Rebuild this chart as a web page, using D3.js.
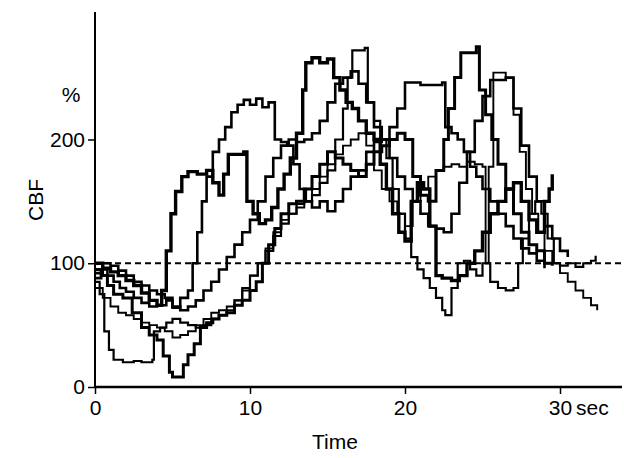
<!DOCTYPE html>
<html><head><meta charset="utf-8">
<script src="https://cdn.jsdelivr.net/npm/d3@7"></script>
<style>body{margin:0;background:#fff}svg{display:block}text{font-family:"Liberation Sans",Arial,sans-serif;fill:#000}</style>
</head><body><svg id="c" width="624" height="458"></svg>
<script>
const xTicks = [0, 10, 20, 30];
const yTicks = [0, 100, 200];
const baseline = 100;
const series1 = [[0,88],[0.4,95],[0.8,90],[1.2,85],[1.6,80],[2,77],[2.5,72],[3,68],[3.5,65],[4,66],[4.6,70],[5,64],[5.5,72],[6,78],[6.3,100],[6.6,125],[6.9,150],[7.2,170],[7.6,190],[8,200],[8.4,210],[8.8,222],[9.2,228],[9.6,232],[10,228],[10.4,233],[10.8,226],[11.2,230],[11.6,200],[12,198],[12.4,195],[12.8,180],[13.2,160],[13.6,150],[14,145],[14.5,150],[15,142],[15.5,150],[16,160],[16.5,170],[17,175],[17.5,190],[18,198],[18.5,200],[19,210],[19.5,225],[20,246],[21,244],[22.4,246],[22.6,210],[23,205],[23.4,200],[23.8,190],[24.2,178],[24.6,170],[25,160],[25.5,150],[26,140],[26.5,130],[27,120],[27.5,112],[28,108],[28.5,102],[29,96]];
const series2 = [[0,100],[0.5,96],[1,93],[1.5,90],[2,86],[2.5,82],[3,76],[3.5,70],[4,66],[4.3,78],[4.6,110],[4.9,140],[5.2,158],[5.6,170],[6,174],[6.6,172],[7.2,175],[7.6,165],[8,155],[8.3,172],[8.6,188],[9.6,190],[9.8,150],[10.2,140],[10.6,132],[11,135],[11.4,145],[11.8,160],[12.2,172],[12.6,185],[13,205],[13.4,240],[13.6,262],[14,266],[14.5,262],[15,265],[15.4,250],[15.8,240],[16.2,230],[16.6,225],[17,215],[17.5,205],[18,200],[18.4,180],[18.8,160],[19.2,140],[19.6,125],[20,118],[20.4,150],[20.8,165],[21.2,160],[21.6,130],[22,90],[22.4,88],[23,86],[23.5,90],[24,100],[24.5,110],[25,125],[25.5,140],[26,150],[26.5,160],[27,165],[27.5,150],[28,135],[28.5,125],[29,150],[29.3,160],[29.5,172]];
const series3 = [[0,85],[0.3,75],[0.6,45],[0.9,30],[1.2,22],[1.8,20],[2.5,21],[3,20],[3.7,22],[3.8,45],[4.2,48],[4.6,52],[5,55],[5.5,52],[6,50],[6.5,48],[7,50],[7.5,55],[8,58],[8.5,62],[9,70],[9.5,80],[10,90],[10.5,100],[11,110],[11.5,122],[12,132],[12.5,140],[13,148],[13.5,150],[14,155],[14.5,165],[15,175],[15.5,200],[16,225],[16.3,250],[16.6,272],[17.4,274],[17.6,230],[18,215],[18.4,200],[18.8,185],[19.2,160],[19.6,140],[20,120],[20.4,105],[20.8,95],[21.2,88],[21.6,80],[22,72],[22.4,62],[22.6,58],[23,80],[23.4,100],[23.8,102],[24.2,95],[24.6,90],[25,100],[25.5,85],[26,80],[26.5,78],[27,80],[27.3,100],[27.6,120],[28,140],[28.4,150],[28.8,140],[29.2,120],[29.6,100],[30,98],[30.5,100],[31,97],[31.5,100],[32,102],[32.3,106]];
const series4 = [[0,95],[0.4,90],[0.8,82],[1.2,75],[1.8,72],[2.4,60],[3,48],[3.5,42],[4,38],[4.4,25],[4.8,12],[5,8],[5.4,8],[5.7,18],[6,26],[6.4,35],[6.8,48],[7.2,52],[7.6,55],[8,58],[8.5,60],[9,66],[9.5,70],[10,78],[10.4,85],[10.8,100],[11.2,115],[11.6,128],[12,140],[12.5,148],[13,150],[13.5,160],[14,170],[14.5,180],[15,190],[15.5,185],[16,180],[16.5,175],[17,170],[17.5,180],[18,190],[18.5,195],[19,200],[19.5,205],[20,200],[20.5,170],[21,155],[21.5,150],[22,175],[22.5,200],[22.8,225],[23.2,250],[23.6,270],[24.6,275],[24.8,240],[25.2,220],[25.6,200],[26,180],[26.5,160],[27,140],[27.5,125],[28,115],[28.5,110],[29,100],[29.5,98]];
const series5 = [[0,80],[0.5,72],[1,65],[1.5,60],[2,58],[2.5,55],[3,52],[3.5,50],[4,48],[4.5,45],[5,40],[5.5,42],[6,45],[6.5,50],[7,55],[7.5,60],[8,62],[8.5,65],[9,70],[9.5,78],[10,90],[10.5,100],[11,112],[11.5,125],[12,135],[12.5,140],[13,145],[13.5,150],[14,160],[14.5,170],[15,180],[15.5,188],[16,195],[16.5,200],[17,205],[17.5,195],[18,175],[18.5,160],[19,150],[19.5,140],[20,130],[20.5,150],[21,160],[21.5,170],[22,175],[22.5,178],[23,180],[23.5,178],[24,182],[24.5,180],[25,178],[25.2,100],[25.4,178],[25.7,254],[26.5,250],[27,220],[27.4,190],[27.8,160],[28.2,140],[28.6,125],[29,110],[29.5,100],[30,92],[30.5,85],[31,78],[31.5,72],[32,66],[32.4,62]];
const series6 = [[0,92],[0.5,100],[1,98],[1.5,94],[2,90],[2.5,85],[3,82],[3.5,78],[4,75],[4.5,72],[5,65],[5.5,62],[6,65],[6.5,70],[7,78],[7.5,85],[8,95],[8.5,105],[9,115],[9.5,125],[10,135],[10.5,150],[11,170],[11.5,185],[12,195],[12.5,200],[13,198],[13.5,200],[14,205],[14.5,215],[15,230],[15.5,245],[16,250],[16.5,255],[17,245],[17.5,230],[18,210],[18.5,200],[19,185],[19.5,170],[20,160],[20.5,150],[21,140],[21.5,130],[22,128],[22.5,125],[23,140],[23.5,165],[24,190],[24.5,215],[25,235],[25.5,248],[26.5,250],[27,225],[27.5,195],[28,170],[28.5,150],[29,130],[29.5,120],[30,110],[30.5,105]];
const allSeries = [series1, series2, series3, series4, series5, series6];
const widths = [2.6, 3.4, 2.2, 3, 1.9, 2.6];

const svg = d3.select("#c");
const x = d3.scaleLinear().domain([0, 34]).range([95, 622]);
const y = d3.scaleLinear().domain([0, 303]).range([387, 12]);

const line = d3.line().x(d => x(d[0])).y(d => y(d[1])).curve(d3.curveStepAfter);
svg.append("g").selectAll("path").data(allSeries).join("path")
  .attr("d", line).attr("fill", "none").attr("stroke", "#000")
  .attr("stroke-width", (d, i) => widths[i]).attr("stroke-linejoin", "miter");

svg.append("line").attr("x1", x(0)).attr("x2", x(34)).attr("y1", y(baseline)).attr("y2", y(baseline))
  .attr("stroke", "#000").attr("stroke-width", 2).attr("stroke-dasharray", "6,4");

const xAxis = svg.append("g").attr("transform", `translate(0,${y(0)})`)
  .call(d3.axisBottom(x).tickValues(xTicks).tickSize(7).tickPadding(6).tickFormat(d3.format("d")));
const yAxis = svg.append("g").attr("transform", `translate(${x(0)},0)`)
  .call(d3.axisLeft(y).tickValues(yTicks).tickSize(7).tickPadding(3).tickFormat(d3.format("d")));
[xAxis, yAxis].forEach(g => {
  g.select(".domain").remove();
  g.selectAll(".tick line").attr("stroke-width", 1.5);
  g.selectAll("text").style("font-size", "21px").style("font-family", "Liberation Sans, Arial, sans-serif");
});
svg.append("line").attr("x1", x(0)).attr("x2", x(34)).attr("y1", y(0)).attr("y2", y(0)).attr("stroke", "#000").attr("stroke-width", 2.5);
svg.append("line").attr("x1", x(0)).attr("x2", x(0)).attr("y1", y(303)).attr("y2", y(0)).attr("stroke", "#000").attr("stroke-width", 2);

svg.append("text").attr("x", 576).attr("y", y(0) + 13).attr("dy", "0.71em").attr("font-size", 21).text("sec");
svg.append("text").attr("x", 335).attr("y", 449).attr("text-anchor", "middle").attr("font-size", 21).text("Time");
svg.append("text").attr("transform", "translate(43,200) rotate(-90)").attr("text-anchor", "middle").attr("font-size", 21).text("CBF");
svg.append("text").attr("x", 71).attr("y", 102).attr("text-anchor", "middle").attr("font-size", 21).text("%");
</script></body></html>
